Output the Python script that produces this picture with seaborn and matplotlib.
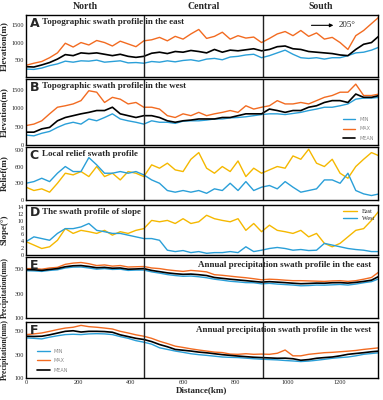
import numpy as np
import pandas as pd
import matplotlib.pyplot as plt
import seaborn as sns

sns.set_style('white')
plt.rcParams['font.family'] = ['Liberation Serif', 'DejaVu Serif']

# distance along the swath (km)
dist = np.arange(0, 1351, 30)

# A - topographic swath, east (m)
a_max = [340, 400, 450, 560, 700, 980, 870, 1000, 930, 1060, 1000, 900, 1040, 960, 880, 1050,
         1080, 1150, 1050, 1180, 1100, 1250, 1380, 1120, 1180, 1300, 1100, 1200, 1130, 1160, 1000,
         1120, 1250, 1320, 1200, 1350, 1180, 1280, 1100, 1150, 1000, 800, 1200, 1350, 1550, 1750]
a_mean = [300, 290, 350, 420, 520, 650, 620, 700, 680, 700, 660, 620, 660, 600, 570, 600,
          690, 720, 680, 740, 720, 770, 740, 700, 800, 720, 780, 760, 790, 820, 760,
          800, 880, 900, 820, 800, 740, 720, 700, 680, 640, 620, 800, 950, 1000, 1200]
a_min = [230, 220, 260, 330, 380, 460, 430, 470, 460, 490, 430, 450, 470, 410, 420, 400,
         450, 430, 470, 440, 480, 500, 460, 520, 540, 500, 580, 600, 640, 660, 560,
         620, 700, 780, 660, 560, 540, 560, 520, 560, 560, 620, 700, 720, 780, 870]

# B - topographic swath, west (m)
b_max = [530, 570, 660, 850, 1030, 1070, 1120, 1210, 1480, 1440, 1160, 1300, 1250, 1120, 1160, 1030,
         1030, 980, 800, 750, 850, 800, 890, 800, 850, 890, 940, 890, 1070, 980, 1030,
         1070, 1210, 1120, 1120, 1160, 1120, 1210, 1300, 1350, 1440, 1440, 1660, 1350, 1350, 1390]
b_mean = [350, 350, 440, 480, 660, 750, 800, 850, 890, 940, 940, 1030, 850, 800, 750, 800,
          800, 750, 660, 620, 660, 680, 710, 710, 710, 750, 750, 800, 850, 850, 850,
          980, 940, 890, 940, 940, 1030, 1070, 1160, 1210, 1210, 1160, 1390, 1300, 1300, 1350]
b_min = [270, 250, 320, 370, 480, 570, 620, 570, 710, 660, 750, 850, 710, 660, 620, 570,
         660, 620, 620, 590, 650, 660, 660, 680, 710, 710, 740, 750, 770, 800, 830,
         850, 850, 830, 860, 890, 940, 980, 1030, 1030, 1070, 1120, 1250, 1280, 1280, 1300]

# C - local relief (m)
c_east = [230, 170, 200, 140, 300, 480, 450, 510, 420, 600, 420, 480, 360, 510, 480, 420,
          630, 570, 660, 540, 510, 730, 850, 570, 480, 600, 510, 700, 420, 570, 480,
          540, 600, 570, 790, 730, 910, 660, 600, 730, 480, 390, 600, 730, 850, 790]
c_west = [300, 330, 390, 330, 480, 600, 510, 510, 760, 630, 480, 480, 510, 480, 510, 450,
          360, 300, 170, 140, 170, 140, 170, 120, 200, 170, 300, 170, 330, 170, 230,
          260, 200, 330, 230, 140, 170, 200, 360, 360, 300, 480, 170, 110, 80, 110]

# D - slope (deg)
d_east = [3.9, 2.9, 1.9, 2.4, 4.3, 7.7, 6.3, 7.2, 6.8, 6.3, 7.2, 5.8, 6.8, 6.3, 7.2, 7.7,
          10.1, 9.7, 10.1, 9.2, 10.6, 9.2, 9.7, 11.6, 10.6, 10.1, 9.7, 10.6, 7.2, 9.2, 6.8,
          8.7, 7.2, 6.8, 6.3, 7.2, 5.3, 6.3, 3.4, 2.4, 3.4, 5.3, 7.2, 7.7, 10.1, 13.0]
d_west = [3.9, 5.3, 4.8, 4.3, 6.3, 7.7, 7.7, 8.2, 9.2, 7.2, 6.8, 6.3, 6.3, 5.8, 5.3, 4.8,
          4.8, 4.3, 1.4, 1.0, 1.3, 0.7, 1.0, 0.5, 0.7, 0.7, 1.0, 0.7, 2.4, 1.0, 1.4,
          1.9, 2.2, 1.9, 1.4, 1.6, 1.3, 1.4, 3.4, 2.9, 2.4, 1.9, 1.6, 1.4, 1.0, 1.0]

# E - annual precipitation, east (mm)
e_max = [505, 505, 500, 510, 515, 540, 550, 555, 545, 530, 535, 525, 530, 518, 520, 522,
         510, 505, 495, 488, 482, 490, 485, 478, 455, 450, 443, 436, 430, 422, 413,
         418, 415, 410, 406, 406, 404, 402, 400, 404, 406, 400, 406, 418, 432, 480]
e_mean = [497, 495, 490, 498, 505, 520, 528, 530, 522, 512, 515, 508, 510, 500, 502, 505,
          490, 480, 470, 463, 458, 460, 455, 448, 432, 425, 418, 412, 406, 400, 394,
          398, 394, 390, 385, 381, 383, 386, 385, 389, 390, 386, 392, 400, 410, 443]
e_min = [488, 486, 482, 490, 495, 510, 517, 518, 510, 500, 505, 498, 500, 490, 493, 493,
         478, 468, 456, 448, 442, 444, 438, 430, 418, 410, 401, 396, 390, 389, 380,
         384, 378, 374, 370, 364, 366, 370, 369, 372, 375, 370, 378, 389, 398, 423]

# F - annual precipitation, west (mm)
f_max = [472, 478, 486, 500, 515, 528, 535, 551, 540, 535, 528, 520, 500, 486, 470, 458,
         440, 415, 395, 373, 362, 350, 340, 331, 322, 318, 305, 303, 308, 303, 305,
         303, 312, 340, 290, 290, 303, 310, 317, 320, 325, 330, 336, 345, 352, 359]
f_mean = [458, 456, 458, 470, 485, 500, 505, 494, 500, 500, 498, 492, 470, 455, 440, 430,
          412, 387, 368, 345, 338, 331, 322, 316, 308, 300, 294, 288, 283, 278, 275,
          272, 269, 270, 265, 252, 258, 269, 275, 280, 290, 303, 310, 317, 325, 331]
f_min = [444, 440, 435, 450, 462, 472, 475, 472, 478, 480, 478, 472, 455, 440, 420, 407,
         390, 359, 345, 331, 320, 308, 300, 294, 287, 280, 277, 275, 270, 265, 261,
         258, 255, 250, 246, 241, 245, 252, 260, 269, 275, 280, 290, 303, 310, 317]

col_min = '#2a9fd8'
col_max = '#f26b21'
col_mean = '#000000'
col_east = '#f5b800'
col_west = '#2a9fd8'

fig = plt.figure(figsize=(3.83, 4.0), dpi=100)
left, width = 0.068, 0.919
boxes = [(0.8075, 0.155), (0.6375, 0.165), (0.5, 0.1325),
         (0.3625, 0.125), (0.205, 0.1525), (0.055, 0.14)]
axes = [fig.add_axes([left, b, width, h]) for b, h in boxes]


def mmm(ax, mn, mx, me, lw=1.0):
    sns.lineplot(x=dist, y=mn, ax=ax, color=col_min, lw=lw, label='MIN')
    sns.lineplot(x=dist, y=mx, ax=ax, color=col_max, lw=lw, label='MAX')
    sns.lineplot(x=dist, y=me, ax=ax, color=col_mean, lw=lw + 0.2, label='MEAN')


mmm(axes[0], a_min, a_max, a_mean)
mmm(axes[1], b_min, b_max, b_mean)
sns.lineplot(x=dist, y=c_east, ax=axes[2], color=col_east, lw=1.0, label='East')
sns.lineplot(x=dist, y=c_west, ax=axes[2], color=col_west, lw=1.0, label='West')
sns.lineplot(x=dist, y=d_east, ax=axes[3], color=col_east, lw=1.0, label='East')
sns.lineplot(x=dist, y=d_west, ax=axes[3], color=col_west, lw=1.0, label='West')
mmm(axes[4], e_min, e_max, e_mean)
mmm(axes[5], f_min, f_max, f_mean)

ylims = [(0, 1800), (0, 1800), (0, 950), (0, 14.6), (100, 600), (100, 580)]
yticks = [[500, 1000, 1500], [0, 500, 1000, 1500], [0, 300, 600, 900],
          list(range(0, 15, 2)), [100, 300, 500], [100, 300, 500]]
ylabels = ['Elevation(m)', 'Elevation(m)', 'Relief(m)', 'Slope(°)',
           'Precipitation(mm)', 'Precipitation(mm)']
ylabel_size = [6.5, 6.5, 6.5, 6.5, 5.6, 5.6]
letters = ['A', 'B', 'C', 'D', 'E', 'F']
titles = ['Topographic swath profile in the east', 'Topographic swath profile in the west',
          'Local relief swath profile', 'The swath profile of slope',
          'Annual precipitation swath profile in the east',
          'Annual precipitation swath profile in the west']

for i, ax in enumerate(axes):
    ax.set_xlim(0, 1345)
    ax.set_ylim(*ylims[i])
    ax.set_yticks(yticks[i])
    ax.set_xticks([0, 200, 400, 600, 800, 1000, 1200])
    ax.tick_params(direction='in', length=2, width=0.6, labelsize=4.5, pad=1.5)
    if i < 5:
        ax.set_xticklabels([])
    for s in ax.spines.values():
        s.set_linewidth(1.0)
        s.set_color('black')
    ax.axvline(450, color='#222222', lw=1.0)
    ax.axvline(905, color='#222222', lw=1.0)
    ax.set_ylabel(ylabels[i], fontsize=ylabel_size[i], fontweight='bold')
    ax.yaxis.set_label_coords(-0.05, 0.5)
    ax.set_xlabel('')
    if ax.get_legend() is not None:
        ax.get_legend().remove()
    ax.text(0.01, 0.97, letters[i], transform=ax.transAxes, fontsize=9, fontweight='bold',
            family=['DejaVu Sans'], va='top', ha='left')
    if i < 4:
        ax.text(0.045, 0.95, titles[i], transform=ax.transAxes, fontsize=6.5,
                fontweight='bold', va='top', ha='left')
    else:
        ax.text(0.98, 0.93, titles[i], transform=ax.transAxes, fontsize=6.5,
                fontweight='bold', va='top', ha='right')

axes[5].set_xlabel('Distance(km)', fontsize=6.5, fontweight='bold', labelpad=1)

# legends
for ax, loc, anchor in [(axes[1], 'lower right', (1.0, 0.0)), (axes[5], 'lower left', (0.02, 0.02))]:
    ax.legend(loc=loc, bbox_to_anchor=anchor, frameon=False, handlelength=2.5,
              labelspacing=0.9, prop={'family': 'DejaVu Sans', 'size': 3.5})
    for t in ax.get_legend().get_texts():
        t.set_color('#888888')
axes[3].legend(loc='upper right', frameon=False, fontsize=4.5, handlelength=2.2,
               labelspacing=0.2, borderaxespad=0.2)

# direction arrow in A
axes[0].annotate('', xy=(1185, 1500), xytext=(1080, 1500),
                 arrowprops=dict(arrowstyle='-|>', color='black', lw=0.8, mutation_scale=5))
axes[0].text(1195, 1500, '205°', fontsize=6.5, va='center', ha='left')

# region names on top
for x, name in [(225, 'North'), (678, 'Central'), (1125, 'South')]:
    axes[0].text(x, 1.06, name, transform=axes[0].get_xaxis_transform(), fontsize=7,
                 fontweight='bold', ha='center', va='bottom')

fig.savefig('out.png', dpi=100)
